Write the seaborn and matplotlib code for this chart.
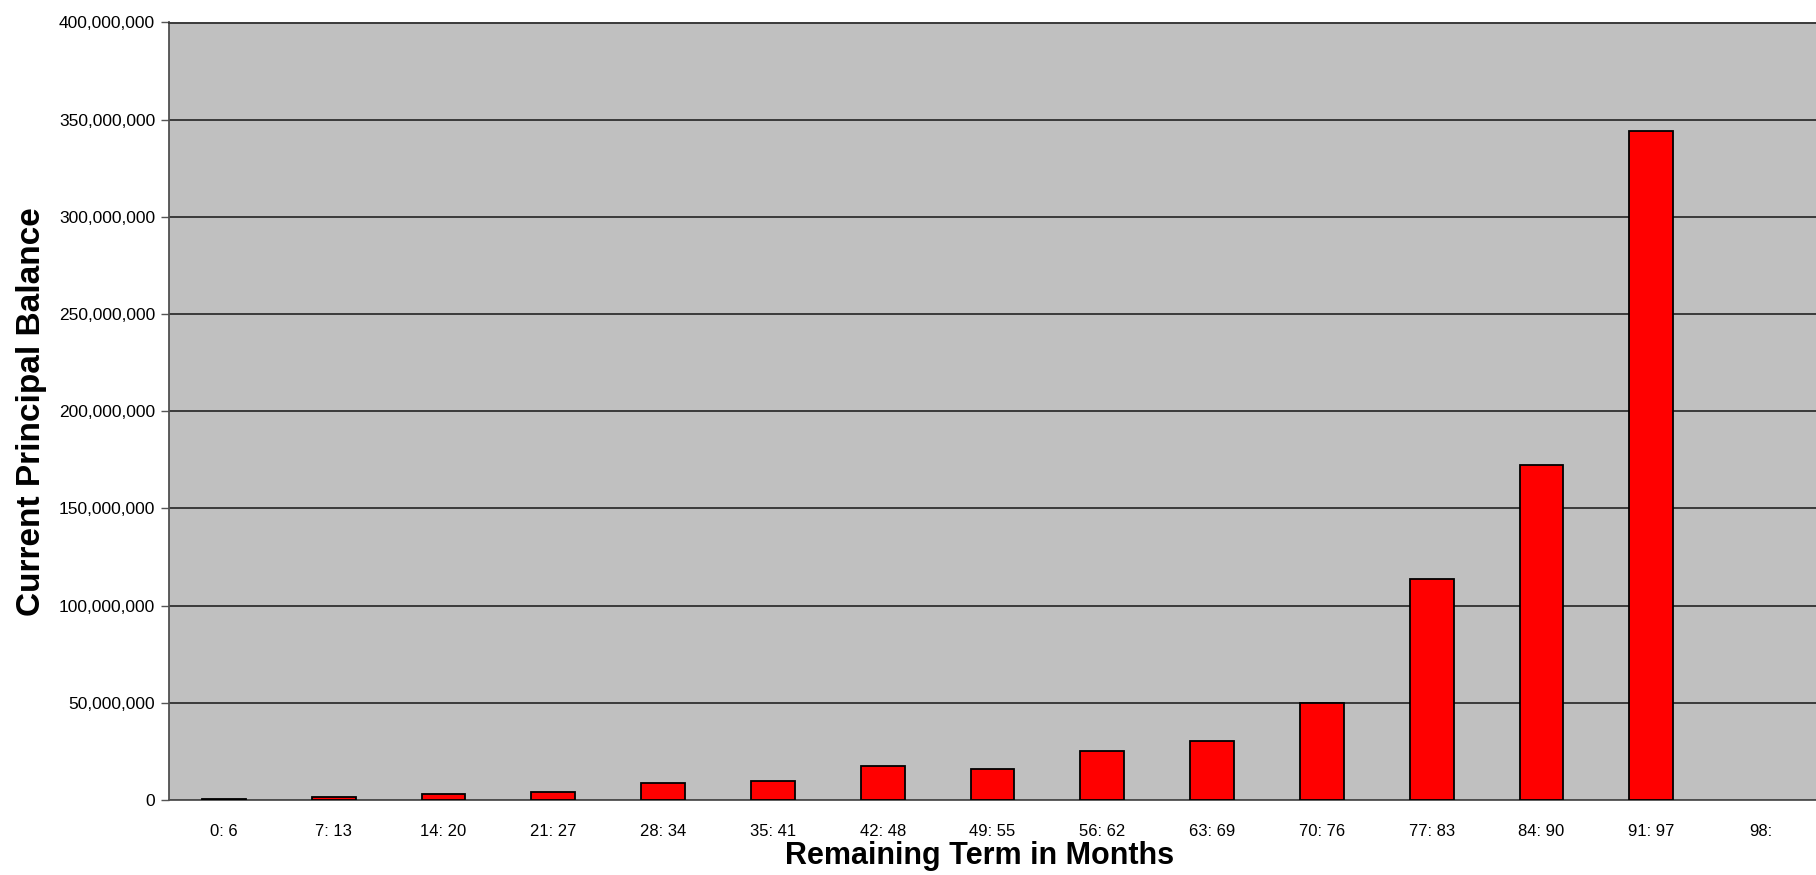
import numpy as np
import pandas as pd
import matplotlib
matplotlib.use("Agg")
import matplotlib.pyplot as plt
from matplotlib.ticker import FuncFormatter, FixedLocator
import seaborn as sns

# remaining term buckets and current principal balance
term_buckets = ['0: 6', '7: 13', '14: 20', '21: 27', '28: 34', '35: 41', '42: 48',
                '49: 55', '56: 62', '63: 69', '70: 76', '77: 83', '84: 90', '91: 97', '98:']
balance_mm = [0.7, 1.7, 3.2, 4.3, 8.9, 9.7, 17.5, 16.1, 25.0, 30.5, 49.7, 113.6, 172.1, 344.3, np.nan]
y_ticks = [0, 50e6, 100e6, 150e6, 200e6, 250e6, 300e6, 350e6, 400e6]

df = pd.DataFrame({'term': term_buckets, 'balance': np.array(balance_mm) * 1e6})

sns.set_style("white")
plt.rcParams['font.family'] = ['Liberation Sans', 'DejaVu Sans']
plt.rcParams['text.color'] = 'black'
plt.rcParams['axes.labelcolor'] = 'black'
plt.rcParams['xtick.labelcolor'] = 'black'
plt.rcParams['ytick.labelcolor'] = 'black'

fig = plt.figure(figsize=(18.16, 8.75), dpi=100)
ax = fig.add_axes([169 / 1816, 75 / 875, 1 - 169 / 1816, 777.5 / 875])
ax.set_facecolor('#c0c0c0')

sns.barplot(data=df, x='term', y='balance', color='#ff0000', edgecolor='black',
            linewidth=1.3, width=0.4, saturation=1, ax=ax, zorder=3)

ax.set_ylim(0, 400e6)
ax.set_xlim(-0.5, 14.42)
ax.yaxis.set_major_locator(FixedLocator(y_ticks))
ax.yaxis.set_major_formatter(FuncFormatter(lambda v, p: f"{int(v):,}"))
ax.grid(axis='y', color='#3a3a3a', linewidth=1.4, zorder=1)
ax.set_axisbelow(True)

# category boundaries carry the tick marks, labels sit at centres
ax.set_xticks(range(len(term_buckets)))
ax.set_xticklabels(term_buckets, fontsize=12)
ax.set_xticks(np.arange(len(term_buckets)) + 0.5, minor=True)
ax.tick_params(axis='x', which='major', length=0, pad=17, labelcolor='black')
ax.tick_params(axis='x', which='minor', length=5, width=1, color='#555555', direction='out')
ax.tick_params(axis='y', which='major', labelsize=12.5, length=6, width=1,
               color='#555555', labelcolor='black', direction='out', pad=4, left=True)

ax.spines['right'].set_visible(False)
ax.spines['top'].set_color('#3a3a3a')
ax.spines['top'].set_linewidth(1.4)
for side in ['left', 'bottom']:
    ax.spines[side].set_color('#505050')
    ax.spines[side].set_linewidth(1.3)

ax.set_xlabel('Remaining Term in Months', fontsize=22, fontweight='bold', color='black')
ax.xaxis.set_label_coords((980 - 169) / (1816 - 169), -41 / 777.5)
ax.set_ylabel('Current Principal Balance', fontsize=24, fontweight='bold', color='black')
ax.yaxis.set_label_coords(-122 / (1816 - 169), 0.5)

fig.savefig('out.png', dpi=100, facecolor='white')
